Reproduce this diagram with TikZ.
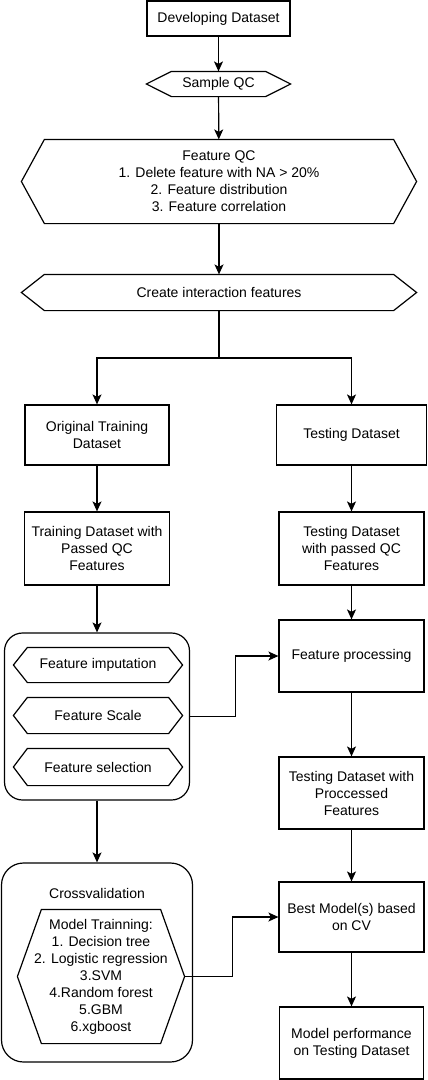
\documentclass[tikz,border=0pt]{standalone}
\usepackage{fontspec}
\setmainfont{Liberation Sans}
\usetikzlibrary{arrows.meta, positioning, calc}

% hexagon outline round a named node: node name, tip length (pt)
\newcommand{\hexoutline}[2]{%
  \draw[hexline] (#1.west) -- ([xshift=#2pt]#1.north west) -- ([xshift=-#2pt]#1.north east) -- (#1.east)
    -- ([xshift=-#2pt]#1.south east) -- ([xshift=#2pt]#1.south west) -- cycle;}

\begin{document}
\begin{tikzpicture}[
    x=1pt, y=-1pt,
    font=\fontsize{14pt}{17pt}\selectfont,
    line width=1.2pt,
    flowbox/.style={rectangle, draw=black, align=center, inner sep=2pt, minimum width=145pt, minimum height=72pt},
    hexnode/.style={rectangle, align=center, inner sep=0pt},
    hexline/.style={draw=black, line join=miter},
    groupbox/.style={rectangle, draw=black, rounded corners=18pt, inner sep=0pt},
    flowarrow/.style={-{Stealth[length=10pt, width=9pt, inset=2.5pt]}}
]
    \useasboundingbox (0,0) rectangle (428,1080);

    % Developing dataset and QC steps
    \node[flowbox, minimum width=143pt, minimum height=35pt] (dev) at (218.5, 18.5) {Developing Dataset};
    \node[hexnode, minimum width=143pt, minimum height=24pt] (sampleqc) at (218.5, 84) {Sample QC};
    \hexoutline{sampleqc}{25}
    \node[hexnode, minimum width=394pt, minimum height=83pt] (featqc) at (219, 181.5) {Feature QC\\1. Delete feature with NA > 20\%\\2. Feature distribution\\3. Feature correlation};
    \hexoutline{featqc}{23}
    \node[hexnode, minimum width=394pt, minimum height=35pt] (interact) at (219, 292.5) {Create interaction features};
    \hexoutline{interact}{23}

    \draw[flowarrow] (dev) -- (sampleqc);
    \draw[flowarrow] (sampleqc) -- (featqc);
    \draw[flowarrow] (featqc) -- (interact);

    % Split into training / testing
    \coordinate (split) at (219, 358);
    \node[flowbox, minimum width=144pt, minimum height=60pt] (origtrain) at (97, 435) {Original Training\\Dataset};
    \node[flowbox, minimum width=150pt, minimum height=60pt] (testset) at (351.5, 435) {Testing Dataset};
    \draw (interact.south) -- (split);
    \draw[flowarrow] (split) -| (origtrain.north);
    \draw[flowarrow] (split) -| (testset.north);

    % Passed QC features
    \node[flowbox, minimum height=73pt] (trainqc) at (97, 548.5) {Training Dataset with\\Passed QC\\Features};
    \node[flowbox, minimum height=73pt] (testqc) at (351.5, 548.5) {Testing Dataset\\with passed QC\\Features};
    \draw[flowarrow] (origtrain) -- (trainqc);
    \draw[flowarrow] (testset) -- (testqc);

    % Feature preparation group
    \node[groupbox, minimum width=185pt, minimum height=167pt] (prep) at (97, 716.5) {};
    \node[hexnode, minimum width=168pt, minimum height=34pt] (impute) at (98, 665) {Feature imputation};
    \hexoutline{impute}{14}
    \node[hexnode, minimum width=168pt, minimum height=35pt] (scale) at (98, 715.5) {Feature Scale};
    \hexoutline{scale}{14}
    \node[hexnode, minimum width=168pt, minimum height=36pt] (select) at (98, 767) {Feature selection};
    \hexoutline{select}{14}
    \draw[flowarrow] (trainqc) -- (prep);

    % Feature processing on testing side
    \node[flowbox] (featproc) at (351.5, 656) {Feature processing};
    \node[flowbox] (testproc) at (351.5, 793) {Testing Dataset with\\Proccessed\\Features};
    \draw[flowarrow] (testqc) -- (featproc);
    \draw[flowarrow] (prep.east) -- ++(45,0) |- (featproc.west);
    \draw[flowarrow] (featproc) -- (testproc);

    % Crossvalidation group
    \node[groupbox, rounded corners=22pt, minimum width=191pt, minimum height=199pt] (cv) at (97, 962.5) {};
    \node (cvlabel) at (97, 893) {Crossvalidation};
    \node[hexnode, minimum width=166pt, minimum height=133pt] (modeltrain) at (101, 976.5) {Model Trainning:\\1. Decision tree\\2. Logistic regression\\3.SVM\\4.Random forest\\5.GBM\\6.xgboost};
    \hexoutline{modeltrain}{24}
    \draw[flowarrow] (prep) -- (cv);

    % Best model and evaluation
    \node[flowbox, minimum height=70pt] (best) at (351.5, 917) {Best Model(s) based\\on CV};
    \node[flowbox, minimum width=144pt] (perf) at (351.5, 1043) {Model performance\\on Testing Dataset};
    \draw[flowarrow] (testproc) -- (best);
    \draw[flowarrow] (modeltrain.east) -- ++(48,0) |- (best.west);
    \draw[flowarrow] (best) -- (perf);
\end{tikzpicture}
\end{document}
